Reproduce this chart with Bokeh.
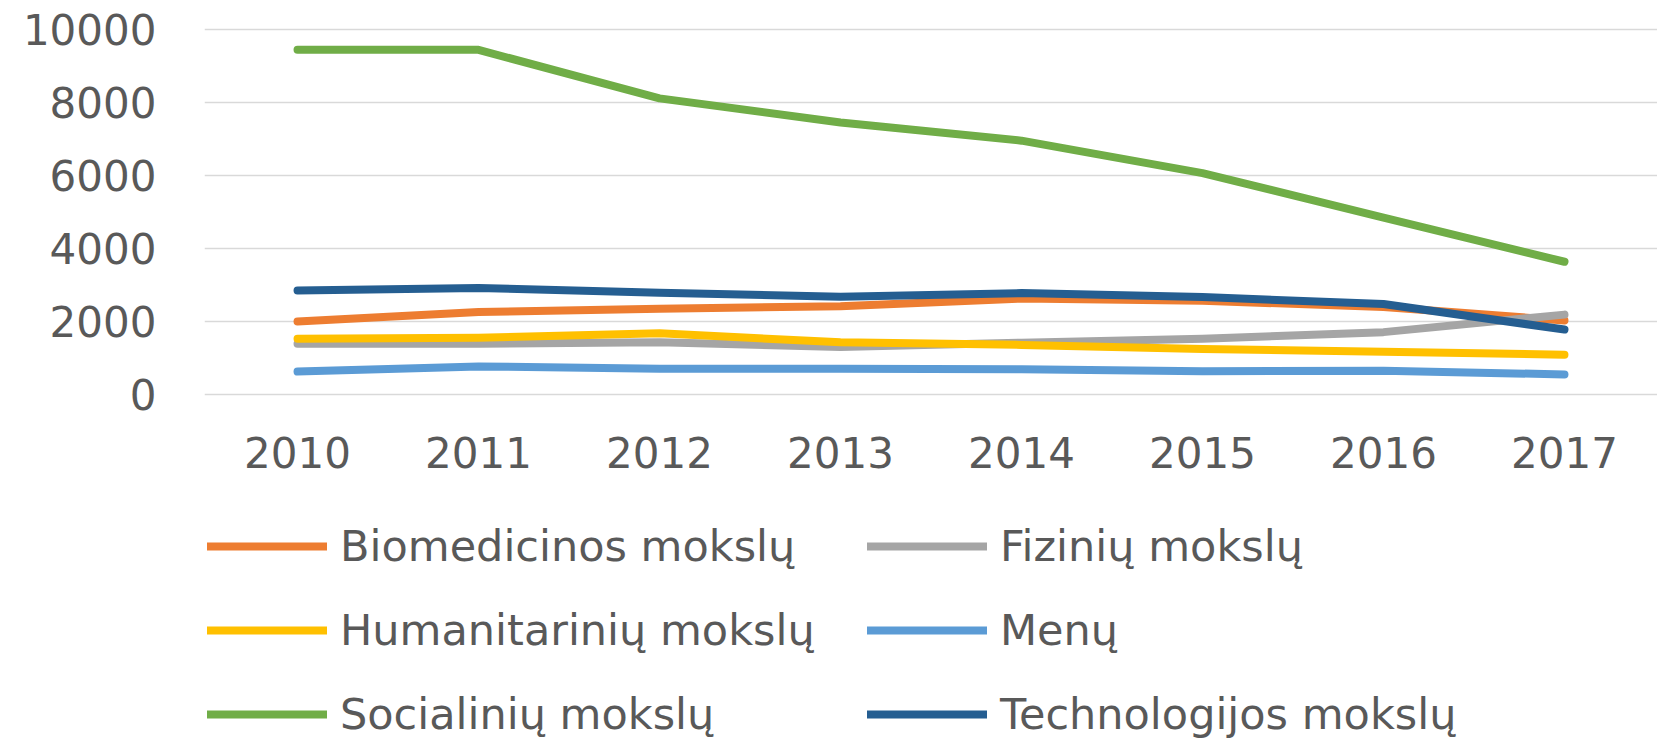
from bokeh.plotting import figure
from bokeh.models import Legend, LegendItem, FixedTicker, Range1d
from bokeh.embed import file_html
from bokeh.resources import INLINE

years = [2010, 2011, 2012, 2013, 2014, 2015, 2016, 2017]
biomedicinos = [2000, 2260, 2350, 2420, 2630, 2570, 2400, 2030]
fiziniu = [1390, 1390, 1430, 1300, 1420, 1530, 1710, 2190]
humanitariniu = [1530, 1555, 1680, 1430, 1360, 1250, 1170, 1090]
menu = [630, 770, 705, 705, 690, 640, 650, 550]
socialiniu = [9450, 9450, 8120, 7460, 6960, 6070, 4850, 3640]
technologijos = [2850, 2920, 2790, 2680, 2780, 2670, 2480, 1780]

series_names = ["Biomedicinos mokslų", "Fizinių mokslų", "Humanitarinių mokslų",
                "Menų", "Socialinių mokslų", "Technologijos mokslų"]
series_values = [biomedicinos, fiziniu, humanitariniu, menu, socialiniu, technologijos]
colors = ["#ED7D31", "#A5A5A5", "#FFC000", "#5B9BD5", "#70AD47", "#255E91"]
y_ticks = [0, 2000, 4000, 6000, 8000, 10000]

FONT = "DejaVu Sans"
TXT = "#595959"

# frame spans the whole lower part; data occupies 0..10000 at the top,
# the legend sits in the lower part of the frame
p = figure(width=1657, height=740, output_backend="svg", toolbar_location=None,
           x_range=Range1d(2009.486, 2017.514), y_range=Range1d(-9487, 10090),
           min_border_left=204, min_border_right=0, min_border_top=26,
           min_border_bottom=0)
p.outline_line_color = None
p.background_fill_color = "white"
p.border_fill_color = "white"

p.xgrid.grid_line_color = None
p.ygrid.grid_line_color = "#D9D9D9"
p.ygrid.grid_line_width = 1.5
p.ygrid.ticker = FixedTicker(ticks=y_ticks)

p.yaxis.ticker = FixedTicker(ticks=y_ticks)
p.xaxis.ticker = FixedTicker(ticks=years)
for ax in (p.xaxis, p.yaxis):
    ax.axis_line_color = None
    ax.major_tick_line_color = None
    ax.minor_tick_line_color = None
    ax.major_tick_out = 0
    ax.major_tick_in = 0
    ax.minor_tick_out = 0
    ax.major_label_text_font = FONT
    ax.major_label_text_font_size = "42px"
    ax.major_label_text_color = TXT
p.yaxis.major_label_standoff = 48
p.xaxis.major_label_standoff = 43
p.xaxis.fixed_location = 0

renderers = {}
for name, vals, c in zip(series_names, series_values, colors):
    renderers[name] = p.line(years, vals, line_color=c, line_width=8,
                             line_cap="round", line_join="round")

# legend grid is filled column by column
legend_order = ["Biomedicinos mokslų", "Humanitarinių mokslų", "Socialinių mokslų",
                "Fizinių mokslų", "Menų", "Technologijos mokslų"]
items = [LegendItem(label=n, renderers=[renderers[n]]) for n in legend_order]

legend = Legend(items=items, ncols=2, location=(3, 1),
                label_text_font=FONT, label_text_font_size="43px", label_text_color=TXT,
                glyph_width=120, glyph_height=50, label_height=50, label_width=493,
                label_standoff=13, spacing=34, padding=0, margin=0,
                border_line_color=None, background_fill_alpha=0)
p.add_layout(legend, "center")

open("out.html", "w").write(file_html(p, INLINE))
